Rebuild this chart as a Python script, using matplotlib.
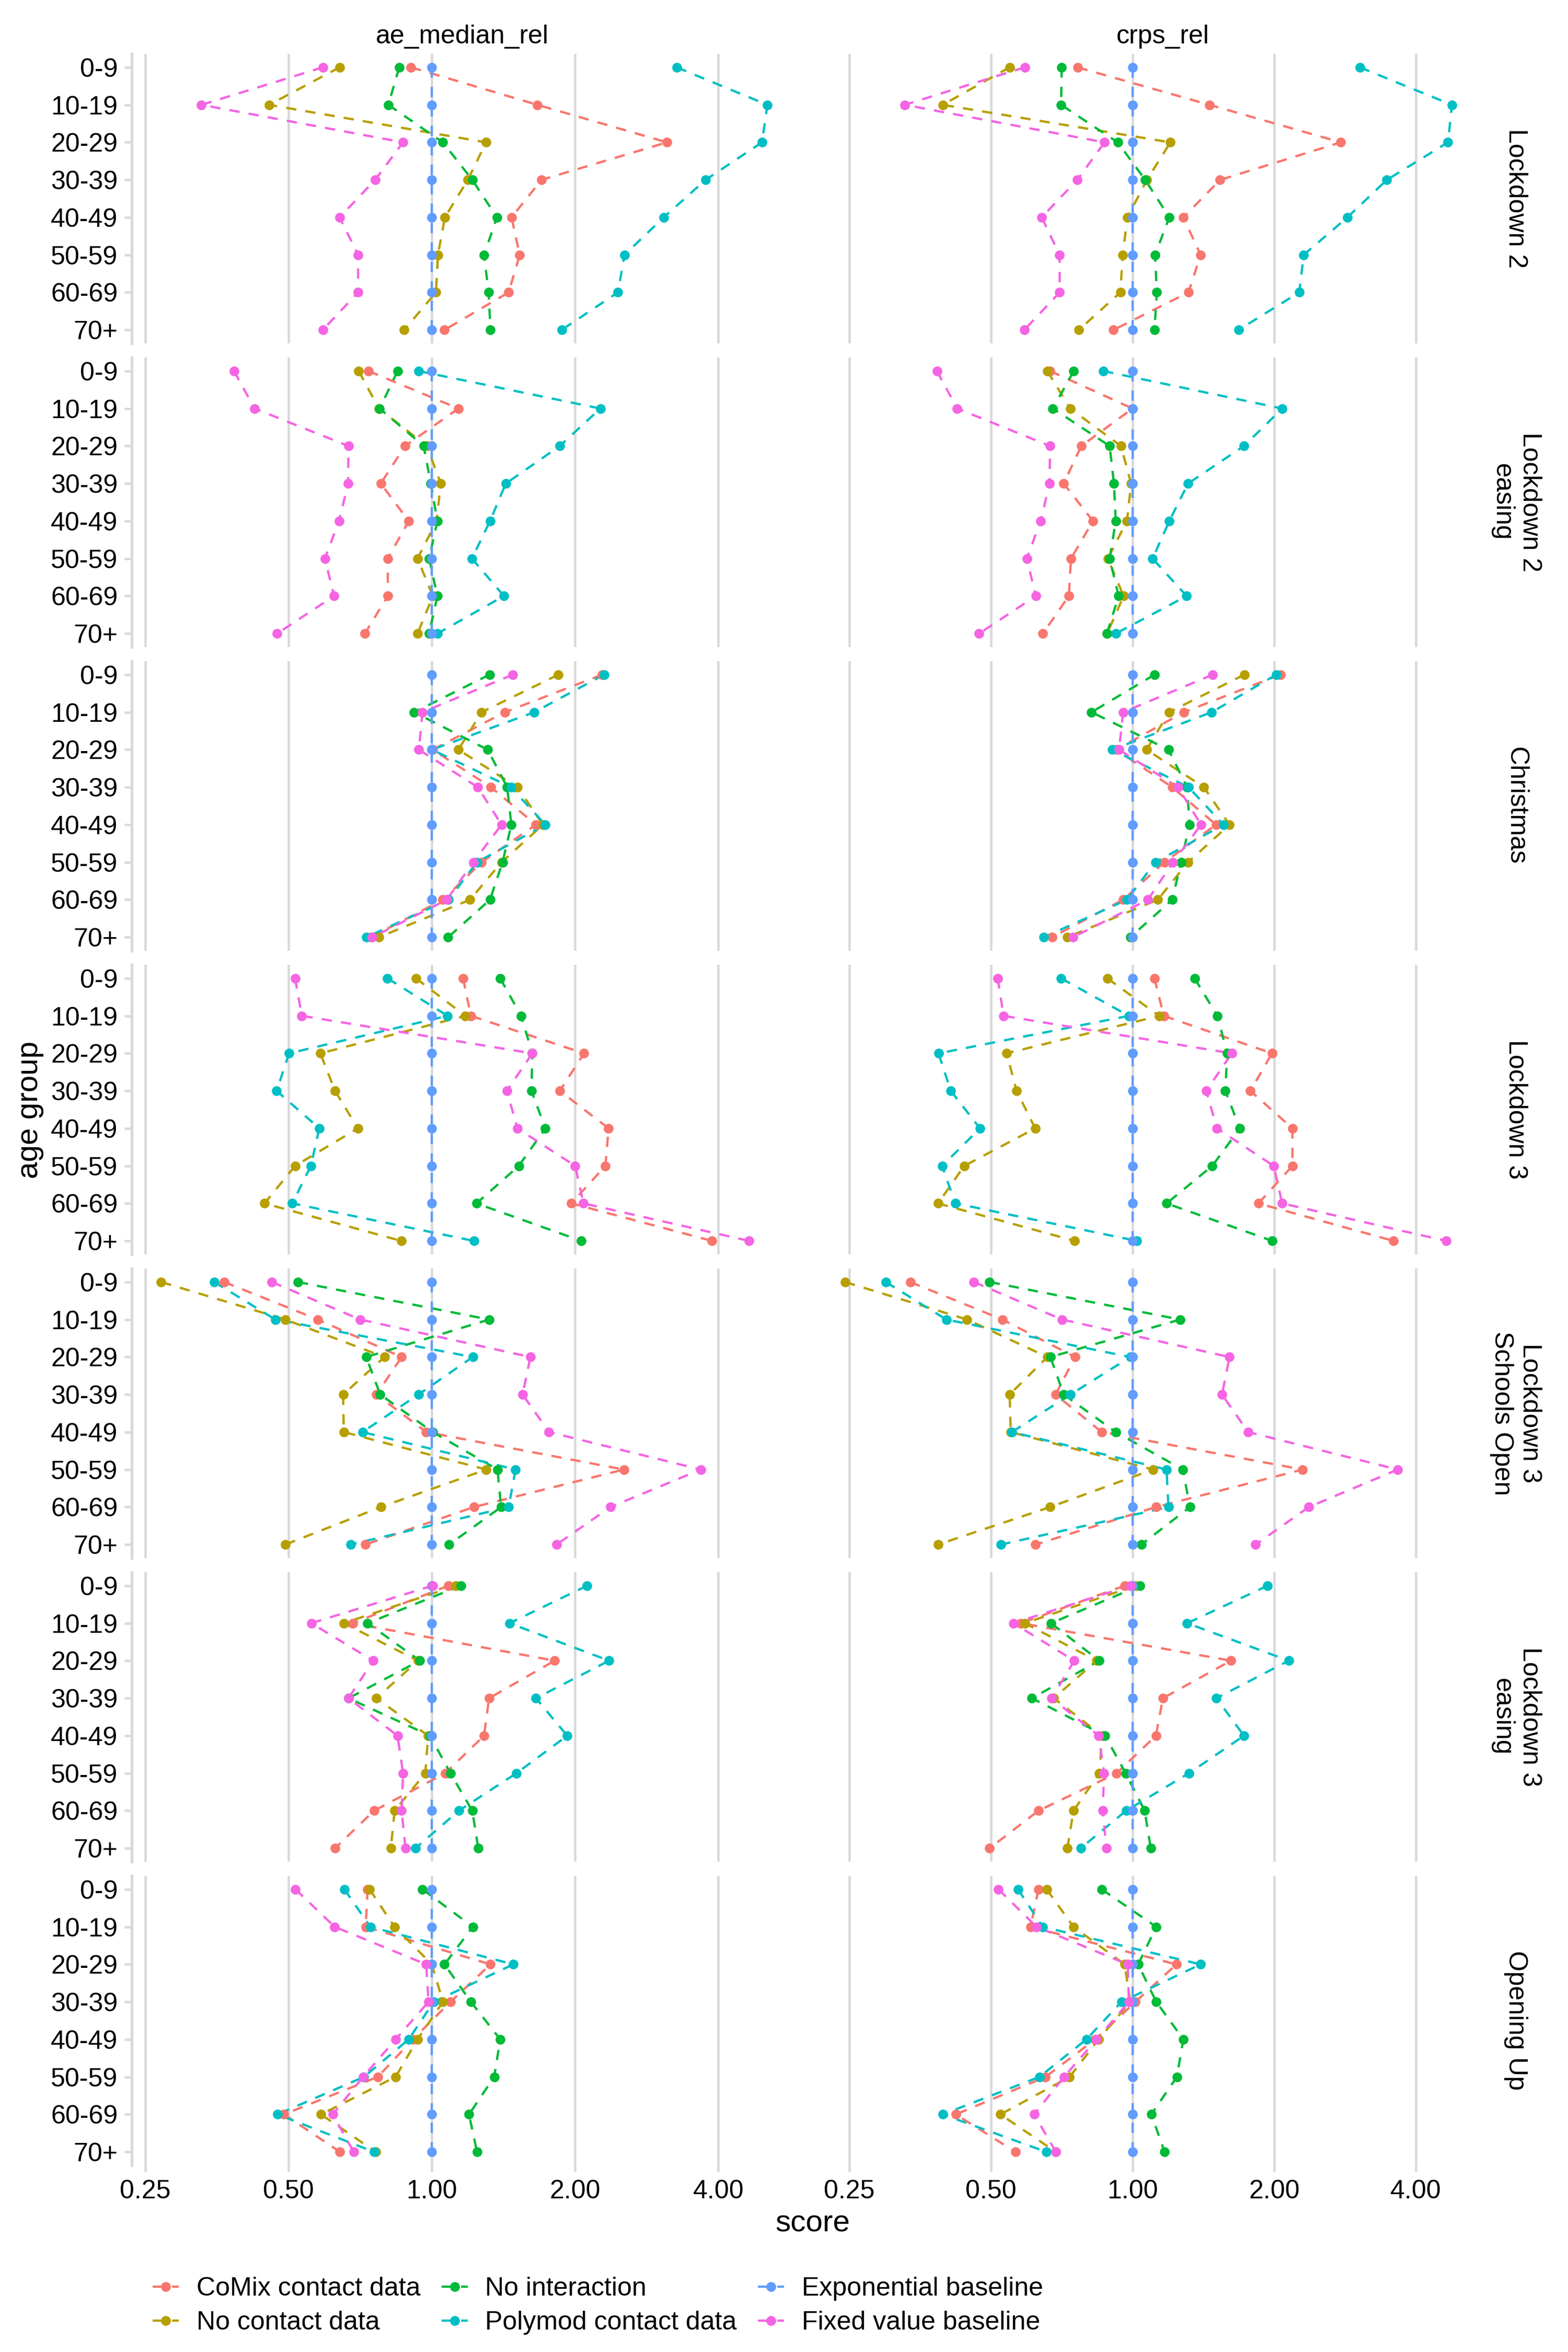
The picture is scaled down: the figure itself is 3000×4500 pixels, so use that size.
import numpy as np
import matplotlib
matplotlib.use("Agg")
import matplotlib.pyplot as plt
from matplotlib.lines import Line2D
from matplotlib.ticker import NullLocator

plt.rcParams['font.family'] = ['Liberation Sans', 'DejaVu Sans']

ages = ["0-9", "10-19", "20-29", "30-39", "40-49", "50-59", "60-69", "70+"]
periods = ["Lockdown 2", "Lockdown 2\neasing", "Christmas", "Lockdown 3",
           "Lockdown 3\nSchools Open", "Lockdown 3\neasing", "Opening Up"]
metrics = ["ae_median_rel", "crps_rel"]
models = ["CoMix contact data", "No contact data", "No interaction",
          "Polymod contact data", "Exponential baseline", "Fixed value baseline"]
colours = ["#F8766D", "#B79F00", "#00BA38", "#00BFC4", "#619CFF", "#F564E3"]
xticks = [0.25, 0.5, 1.0, 2.0, 4.0]
xticklabels = ["0.25", "0.50", "1.00", "2.00", "4.00"]

# ---- ae_median_rel (left column), one row per period, one value per age group
comix_ae = [
    [0.904, 1.667, 3.12, 1.70, 1.47, 1.53, 1.45, 1.063],
    [0.736, 1.137, 0.878, 0.781, 0.894, 0.808, 0.808, 0.723],
    [2.28, 1.424, 1.004, 1.331, 1.655, 1.272, 1.055, 0.745],
    [1.163, 1.208, 2.088, 1.857, 2.352, 2.315, 1.964, 3.877],
    [0.366, 0.576, 0.864, 0.765, 0.973, 2.533, 1.225, 0.725],
    [1.084, 0.682, 1.811, 1.319, 1.287, 1.067, 0.756, 0.626],
    [0.733, 0.726, 1.328, 1.094, 0.912, 0.770, 0.489, 0.641],
]
nocontact_ae = [
    [0.64, 0.455, 1.30, 1.19, 1.065, 1.03, 1.02, 0.875],
    [0.702, 0.774, 0.976, 1.044, 1.023, 0.933, 1.005, 0.933],
    [1.844, 1.272, 1.137, 1.513, 1.712, 1.401, 1.203, 0.774],
    [0.926, 1.176, 0.583, 0.626, 0.699, 0.516, 0.445, 0.862],
    [0.27, 0.492, 0.795, 0.651, 0.653, 1.301, 0.781, 0.492],
    [1.124, 0.653, 0.935, 0.765, 0.982, 0.969, 0.835, 0.82],
    [0.74, 0.835, 1.0, 1.055, 0.933, 0.839, 0.585, 0.762],
]
nointer_ae = [
    [0.854, 0.81, 1.055, 1.216, 1.37, 1.287, 1.316, 1.328],
    [0.847, 0.777, 0.961, 0.995, 1.027, 0.987, 1.027, 0.987],
    [1.322, 0.918, 1.31, 1.44, 1.469, 1.408, 1.325, 1.082],
    [1.392, 1.54, 1.626, 1.619, 1.732, 1.523, 1.241, 2.06],
    [0.523, 1.319, 0.728, 0.779, 1.004, 1.374, 1.398, 1.087],
    [1.15, 0.733, 0.943, 0.668, 0.991, 1.094, 1.216, 1.252],
    [0.956, 1.219, 1.063, 1.208, 1.392, 1.352, 1.197, 1.244],
]
polymod_ae = [
    [3.27, 5.07, 4.94, 3.76, 3.07, 2.54, 2.46, 1.874],
    [0.937, 2.26, 1.857, 1.43, 1.325, 1.214, 1.417, 1.027],
    [2.30, 1.641, 1.0, 1.466, 1.732, 1.244, 1.084, 0.728],
    [0.807, 1.079, 0.501, 0.472, 0.58, 0.557, 0.509, 1.225],
    [0.349, 0.469, 1.219, 0.937, 0.715, 1.499, 1.45, 0.675],
    [2.12, 1.456, 2.357, 1.655, 1.925, 1.506, 1.139, 0.924],
    [0.655, 0.743, 1.483, 1.009, 0.894, 0.72, 0.474, 0.756],
]
expo_ae = [
    [1.0, 1.0, 1.0, 1.0, 1.0, 1.0, 1.0, 1.0],
    [1.0, 1.0, 1.0, 1.0, 1.0, 1.0, 1.0, 1.0],
    [1.0, 1.0, 1.0, 1.0, 1.0, 1.0, 1.0, 1.0],
    [1.0, 1.0, 1.0, 1.0, 1.0, 1.0, 1.0, 1.0],
    [1.0, 1.0, 1.0, 1.0, 1.0, 1.0, 1.0, 1.0],
    [1.0, 1.0, 1.0, 1.0, 1.0, 1.0, 1.0, 1.0],
    [1.0, 1.0, 1.0, 1.0, 1.0, 1.0, 1.0, 1.0],
]
fixed_ae = [
    [0.59, 0.328, 0.87, 0.76, 0.64, 0.70, 0.70, 0.59],
    [0.384, 0.424, 0.668, 0.667, 0.638, 0.596, 0.623, 0.473],
    [1.479, 0.956, 0.939, 1.249, 1.401, 1.222, 1.075, 0.75],
    [0.516, 0.533, 1.626, 1.437, 1.513, 2.0, 2.083, 4.64],
    [0.461, 0.707, 1.611, 1.551, 1.763, 3.673, 2.373, 1.828],
    [1.004, 0.558, 0.753, 0.668, 0.847, 0.87, 0.864, 0.88],
    [0.517, 0.625, 0.973, 0.984, 0.839, 0.717, 0.619, 0.685],
]

# ---- crps_rel (right column)
comix_crps = [
    [0.764, 1.457, 2.77, 1.535, 1.282, 1.395, 1.315, 0.911],
    [0.668, 1.0, 0.778, 0.714, 0.824, 0.74, 0.732, 0.645],
    [2.06, 1.285, 0.923, 1.214, 1.504, 1.168, 0.955, 0.674],
    [1.113, 1.165, 1.978, 1.78, 2.186, 2.186, 1.851, 3.585],
    [0.337, 0.529, 0.755, 0.686, 0.86, 2.299, 1.121, 0.622],
    [0.962, 0.579, 1.618, 1.16, 1.121, 0.925, 0.631, 0.497],
    [0.631, 0.607, 1.239, 1.014, 0.833, 0.653, 0.421, 0.564],
]
nocontact_crps = [
    [0.548, 0.395, 1.203, 1.073, 0.975, 0.953, 0.942, 0.769],
    [0.659, 0.737, 0.945, 0.993, 0.973, 0.886, 0.957, 0.883],
    [1.728, 1.195, 1.071, 1.417, 1.607, 1.312, 1.131, 0.727],
    [0.884, 1.139, 0.54, 0.567, 0.621, 0.439, 0.386, 0.754],
    [0.245, 0.445, 0.659, 0.548, 0.551, 1.105, 0.668, 0.386],
    [1.016, 0.59, 0.839, 0.68, 0.862, 0.85, 0.749, 0.727],
    [0.657, 0.749, 0.962, 0.989, 0.847, 0.735, 0.524, 0.687],
]
nointer_crps = [
    [0.707, 0.705, 0.93, 1.064, 1.197, 1.116, 1.126, 1.113],
    [0.75, 0.677, 0.894, 0.913, 0.921, 0.894, 0.934, 0.882],
    [1.113, 0.818, 1.192, 1.306, 1.321, 1.268, 1.214, 0.989],
    [1.355, 1.514, 1.589, 1.574, 1.69, 1.477, 1.181, 1.982],
    [0.497, 1.262, 0.669, 0.714, 0.921, 1.279, 1.324, 1.044],
    [1.037, 0.671, 0.85, 0.611, 0.874, 0.967, 1.061, 1.093],
    [0.86, 1.123, 1.028, 1.123, 1.282, 1.242, 1.096, 1.17],
]
polymod_crps = [
    [3.04, 4.77, 4.68, 3.47, 2.86, 2.31, 2.26, 1.68],
    [0.866, 2.08, 1.724, 1.312, 1.197, 1.103, 1.303, 0.921],
    [2.02, 1.473, 0.905, 1.315, 1.56, 1.118, 0.973, 0.648],
    [0.705, 0.982, 0.387, 0.411, 0.474, 0.394, 0.42, 1.021],
    [0.299, 0.402, 0.989, 0.738, 0.554, 1.181, 1.192, 0.525],
    [1.937, 1.306, 2.147, 1.507, 1.725, 1.318, 0.969, 0.776],
    [0.571, 0.644, 1.395, 0.947, 0.798, 0.634, 0.395, 0.656],
]
expo_crps = [
    [1.0, 1.0, 1.0, 1.0, 1.0, 1.0, 1.0, 1.0],
    [1.0, 1.0, 1.0, 1.0, 1.0, 1.0, 1.0, 1.0],
    [1.0, 1.0, 1.0, 1.0, 1.0, 1.0, 1.0, 1.0],
    [1.0, 1.0, 1.0, 1.0, 1.0, 1.0, 1.0, 1.0],
    [1.0, 1.0, 1.0, 1.0, 1.0, 1.0, 1.0, 1.0],
    [1.0, 1.0, 1.0, 1.0, 1.0, 1.0, 1.0, 1.0],
    [1.0, 1.0, 1.0, 1.0, 1.0, 1.0, 1.0, 1.0],
]
fixed_crps = [
    [0.59, 0.328, 0.872, 0.763, 0.641, 0.70, 0.70, 0.589],
    [0.384, 0.424, 0.668, 0.666, 0.638, 0.596, 0.623, 0.472],
    [1.48, 0.955, 0.936, 1.248, 1.398, 1.219, 1.078, 0.747],
    [0.517, 0.532, 1.625, 1.434, 1.511, 1.995, 2.079, 4.64],
    [0.46, 0.708, 1.607, 1.549, 1.76, 3.66, 2.368, 1.826],
    [0.989, 0.558, 0.752, 0.673, 0.847, 0.87, 0.864, 0.88],
    [0.519, 0.625, 0.977, 0.982, 0.839, 0.715, 0.618, 0.687],
]

series_ae = [comix_ae, nocontact_ae, nointer_ae, polymod_ae, expo_ae, fixed_ae]
series_crps = [comix_crps, nocontact_crps, nointer_crps, polymod_crps, expo_crps, fixed_crps]
by_metric = [series_ae, series_crps]

# layout in pixels of the 3000x4500 output
FW, FH = 3000.0, 4500.0
col_x = [252, 1599]
col_w = [1265, 1251]
top0 = 103
panel_h = 554
stride = 581
grid_col = "#D9D9D9"
dash = (0, (4.5, 4))

fig = plt.figure(figsize=(10, 15), dpi=300)
fig.patch.set_facecolor("white")

ypos = np.arange(len(ages))
for r, period in enumerate(periods):
    top = top0 + r * stride
    for c in range(2):
        ax = fig.add_axes([col_x[c] / FW, 1 - (top + panel_h) / FH, col_w[c] / FW, panel_h / FH])
        ax.set_xscale("log", base=2)
        ax.set_xlim(2 ** -2.095, 2 ** 2.52)
        ax.set_ylim(7.36, -0.36)
        ax.set_xticks(xticks)
        ax.set_xticklabels(xticklabels)
        ax.xaxis.set_minor_locator(NullLocator())
        ax.set_yticks(ypos)
        ax.set_yticklabels(ages)
        ax.grid(axis="x", color=grid_col, lw=1.1)
        ax.grid(axis="y", visible=False)
        ax.set_axisbelow(True)
        for s in ["top", "right", "bottom", "left"]:
            ax.spines[s].set_visible(False)
        if c == 0:
            ax.spines["left"].set_visible(True)
            ax.spines["left"].set_color(grid_col)
            ax.spines["left"].set_linewidth(1.3)
            ax.tick_params(axis="y", length=3.4, width=1.1, color=grid_col,
                           labelsize=12, labelcolor="black", pad=3)
        else:
            ax.tick_params(axis="y", length=0, labelleft=False)
        if r == len(periods) - 1:
            ax.tick_params(axis="x", length=2.9, width=1.1, color=grid_col,
                           labelsize=12, labelcolor="black", pad=3.5)
        else:
            ax.tick_params(axis="x", length=0, labelbottom=False)

        # dashed lines first, then all points on top
        for m, col in enumerate(colours):
            vals = by_metric[c][m][r]
            ax.plot(vals, ypos, ls=dash, lw=1.05, color=col, zorder=2)
        for m, col in enumerate(colours):
            vals = by_metric[c][m][r]
            ax.plot(vals, ypos, ls="none", marker="o", ms=4.5, mew=0,
                    color=col, zorder=3)

        if r == 0:
            fig.text((col_x[c] + col_w[c] / 2) / FW, 1 - 70 / FH, metrics[c],
                     ha="center", va="center", fontsize=12)
    fig.text(2900 / FW, 1 - (top + panel_h / 2) / FH, period, rotation=270,
             ha="center", va="center", multialignment="center", fontsize=12)

fig.text(57 / FW, 1 - 2123 / FH, "age group", rotation=90, ha="center",
         va="center", fontsize=14)
fig.text(1555 / FW, 1 - 4255 / FH, "score", ha="center", va="center", fontsize=14)

handles = [Line2D([0], [0], color=col, ls=dash, lw=1.05, marker="o", ms=4.5, mew=0)
           for col in colours]
fig.legend(handles, models, loc="upper left",
           bbox_to_anchor=(292 / FW, 1 - 4356 / FH), ncol=3, frameon=False,
           fontsize=12, handlelength=1.0, handletextpad=0.68, columnspacing=0.8,
           labelspacing=0.38, borderpad=0, borderaxespad=0)

fig.savefig("out.png", dpi=300, facecolor="white")
